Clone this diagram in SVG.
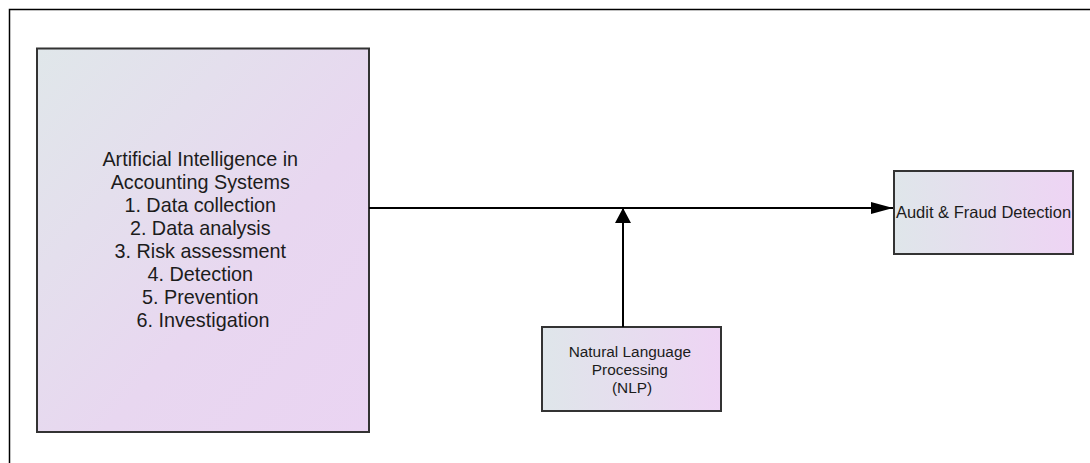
<svg xmlns="http://www.w3.org/2000/svg" width="1090" height="463" viewBox="0 0 1090 463">
  <defs>
    <linearGradient id="gDiag" x1="0" y1="0" x2="1" y2="1">
      <stop offset="0" stop-color="#e0e7ea"/>
      <stop offset="0.6" stop-color="#e8d7f0"/>
      <stop offset="1" stop-color="#ead4f2"/>
    </linearGradient>
    <linearGradient id="gHoriz" x1="0" y1="0" x2="1" y2="0">
      <stop offset="0" stop-color="#dfe6ea"/>
      <stop offset="1" stop-color="#eed4f4"/>
    </linearGradient>
    <marker id="arrowLong" viewBox="0 0 22 12" refX="22" refY="6" markerWidth="22" markerHeight="12" markerUnits="userSpaceOnUse" orient="auto">
      <path d="M0,0 L22,6 L0,12 Z" fill="#000"/>
    </marker>
    <marker id="arrow" viewBox="0 0 15 16" refX="15" refY="8" markerWidth="15" markerHeight="16" markerUnits="userSpaceOnUse" orient="auto">
      <path d="M0,0 L15,8 L0,16 Z" fill="#000"/>
    </marker>
    <style>
      .box { stroke: #333; stroke-width: 2; }
      .txt { font-family: "Liberation Sans", Arial, sans-serif; fill: #1c1c1c; text-anchor: middle; }
      .conn { stroke: #000; stroke-width: 2; fill: none; }
    </style>
  </defs>
  <rect width="1090" height="463" fill="#fff"/>
  <path d="M9.5,463 V9.5 H1090" fill="none" stroke="#000" stroke-width="1.5"/>

  <g id="ai-systems">
    <rect class="box" x="37" y="48.5" width="332" height="383.5" fill="url(#gDiag)"/>
    <text class="txt" font-size="19.8">
      <tspan x="203" y="166">Artificial Intelligence in</tspan>
      <tspan x="203" y="189">Accounting Systems</tspan>
      <tspan x="203" y="212">1. Data collection</tspan>
      <tspan x="203" y="235">2. Data analysis</tspan>
      <tspan x="203" y="258">3. Risk assessment</tspan>
      <tspan x="203" y="281">4. Detection</tspan>
      <tspan x="203" y="304">5. Prevention</tspan>
      <tspan x="203" y="327">6. Investigation</tspan>
    </text>
  </g>

  <g id="audit-fraud">
    <rect class="box" x="894" y="171" width="179" height="83" fill="url(#gHoriz)"/>
    <text class="txt" font-size="16.5" x="983.5" y="218">Audit &amp; Fraud Detection</text>
  </g>

  <g id="nlp">
    <rect class="box" x="542" y="327" width="179" height="84" fill="url(#gHoriz)"/>
    <text class="txt" font-size="15.4">
      <tspan x="632" y="357">Natural Language</tspan>
      <tspan x="632" y="375">Processing</tspan>
      <tspan x="632" y="393">(NLP)</tspan>
    </text>
  </g>

  <g id="connectors">
    <line class="conn" x1="369" y1="208" x2="893" y2="208" marker-end="url(#arrowLong)"/>
    <line class="conn" x1="623" y1="327" x2="623" y2="208" marker-end="url(#arrow)"/>
  </g>
</svg>
